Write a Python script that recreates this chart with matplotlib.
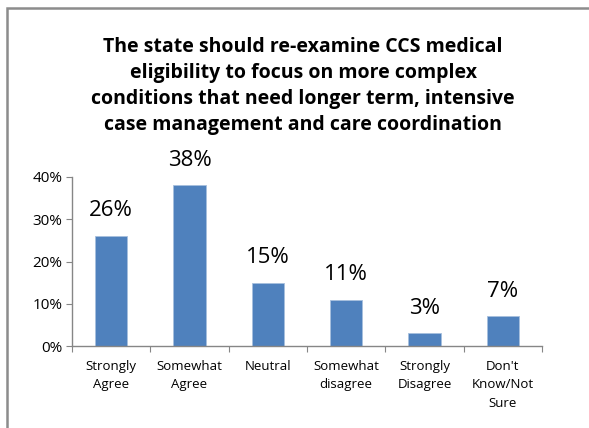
import matplotlib
matplotlib.use("Agg")
import matplotlib.pyplot as plt
from matplotlib.patches import Rectangle
from matplotlib.ticker import PercentFormatter

# survey answers and shares
categories = ["Strongly\nAgree", "Somewhat\nAgree", "Neutral", "Somewhat\ndisagree",
              "Strongly\nDisagree", "Don't\nKnow/Not\nSure"]
shares = [0.26, 0.38, 0.15, 0.11, 0.03, 0.07]
yticks = [0.0, 0.1, 0.2, 0.3, 0.4]
title = ("The state should re-examine CCS medical\neligibility to focus on more complex\n"
         "conditions that need longer term, intensive\ncase management and care coordination")

plt.rcParams['font.family'] = ['Open Sans', 'DejaVu Sans']

fig = plt.figure(figsize=(5.89, 4.28), dpi=100)
W, H = 589, 428

# outer chart frame (only left and top edges visible)
fig.patches.append(Rectangle((6.5 / W, -0.1), 1.2, (H - 7.5) / H + 0.1, transform=fig.transFigure,
                             fill=False, edgecolor='#8c8c8c', linewidth=1.8))

ax = fig.add_axes([72 / W, 1 - 346 / H, (542 - 72) / W, (346 - 177) / H])

x = range(len(categories))
bars = ax.bar(x, shares, width=0.41, color='#4f81bd', edgecolor='#a7bfde', linewidth=0.6, zorder=2)

for xi, v in zip(x, shares):
    ax.text(xi, v + 0.035, f"{v:.0%}", ha='center', va='bottom', fontsize=16, clip_on=False)

ax.set_xlim(-0.5, len(categories) - 0.5)
ax.set_ylim(0, 0.4)
ax.set_yticks(yticks)
ax.yaxis.set_major_formatter(PercentFormatter(1.0, decimals=0))
ax.set_xticks([i - 0.5 for i in range(len(categories) + 1)], minor=False)
ax.set_xticklabels([])
ax.set_xticks(list(x), minor=True)
ax.set_xticklabels(categories, minor=True, fontsize=9.5, linespacing=1.55)
ax.tick_params(axis='x', which='minor', length=0, pad=10)
ax.tick_params(axis='x', which='major', length=4, color='#868686', direction='out')
ax.tick_params(axis='y', length=4, color='#868686', labelsize=11, pad=3)

for s in ['top', 'right']:
    ax.spines[s].set_visible(False)
for s in ['left', 'bottom']:
    ax.spines[s].set_color('#868686')
    ax.spines[s].set_linewidth(1.0)

fig.text(303 / W, 1 - 86 / H, title, ha='center', va='center', fontsize=14,
         fontweight='bold', linespacing=1.42)

fig.savefig("out.png", dpi=100)
